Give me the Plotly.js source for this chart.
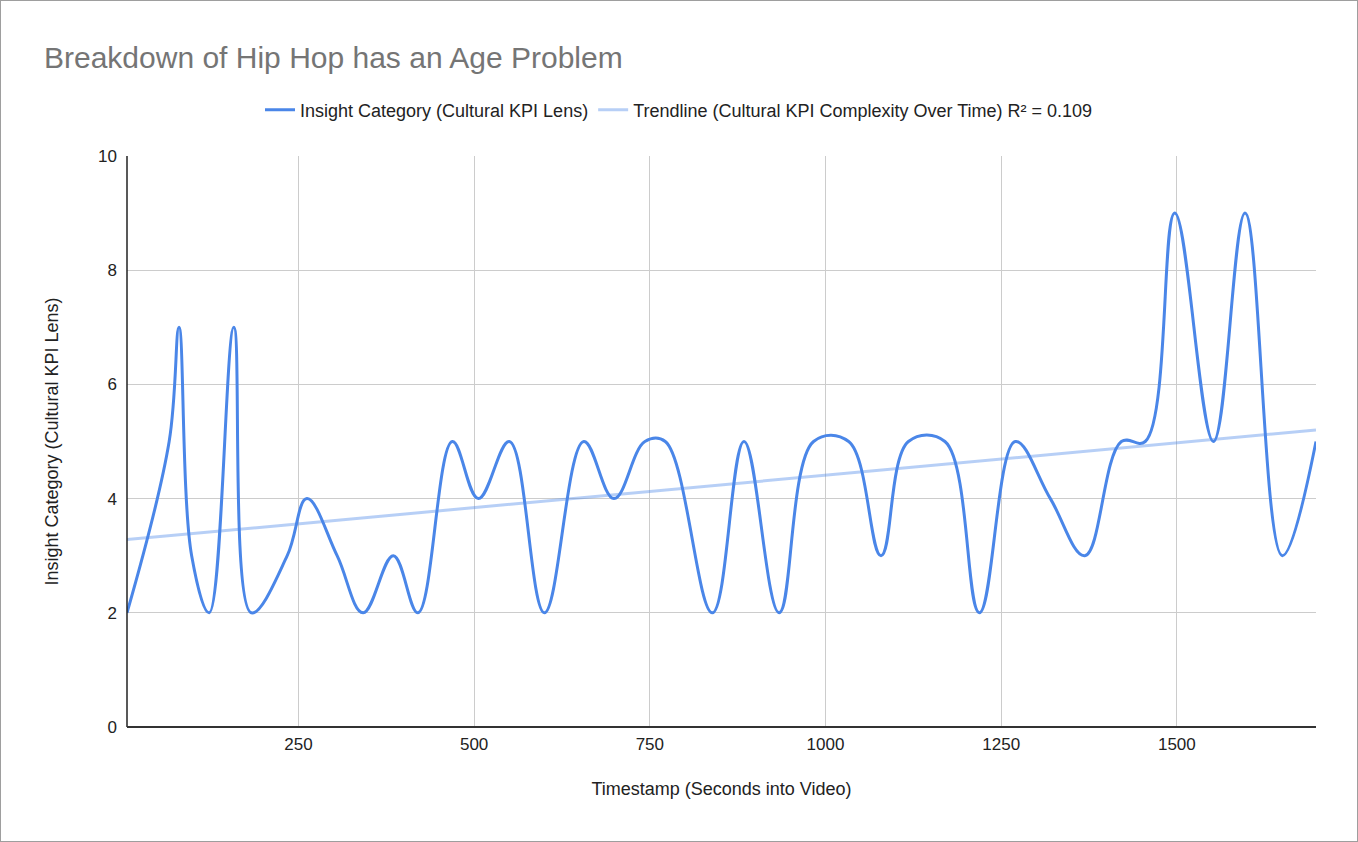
<!DOCTYPE html>
<html>
<head>
<meta charset="utf-8">
<script src="https://cdn.plot.ly/plotly-3.0.1.min.js"></script>
<style>
  html, body { margin: 0; padding: 0; background: #fff; }
  #wrap { position: relative; width: 1358px; height: 842px; }
  #chart { position: absolute; left: 0; top: 0; width: 1358px; height: 842px; }
  #frame { position: absolute; left: 0; top: 0; width: 1358px; height: 842px; box-sizing: border-box; border: 1px solid #9e9e9e; pointer-events: none; }
</style>
</head>
<body>
<div id="wrap"><div id="chart"></div><div id="frame"></div></div>
<script>
// ---- data ----
const chartTitle = 'Breakdown of Hip Hop has an Age Problem';
const seriesName = 'Insight Category (Cultural KPI Lens)';
const trendName = 'Trendline (Cultural KPI Complexity Over Time) R² = 0.109';
const xAxisTitle = 'Timestamp (Seconds into Video)';
const yAxisTitle = 'Insight Category (Cultural KPI Lens)';

const timestamps = [6, 66, 80, 98, 123, 158, 183, 234, 262, 305,
                    342, 385, 420, 469, 506, 550, 600, 656, 699, 743,
                    772, 839, 884, 934, 983, 1033, 1079, 1118, 1170, 1219,
                    1270, 1320, 1369, 1421, 1455, 1497, 1552, 1597, 1650, 1698];
const categories = [2, 5, 7, 3, 2, 7, 2, 3, 4, 3,
                    2, 3, 2, 5, 4, 5, 2, 5, 4, 5,
                    5, 2, 5, 2, 5, 5, 3, 5, 5, 2,
                    5, 4, 3, 5, 5, 9, 5, 9, 3, 5];

const xTickVals = [250, 500, 750, 1000, 1250, 1500];
const yTickVals = [0, 2, 4, 6, 8, 10];

// ---- linear trendline (least squares) ----
const n = timestamps.length;
const mx = timestamps.reduce((a, b) => a + b, 0) / n;
const my = categories.reduce((a, b) => a + b, 0) / n;
let sxy = 0, sxx = 0;
for (let i = 0; i < n; i++) { sxy += (timestamps[i] - mx) * (categories[i] - my); sxx += (timestamps[i] - mx) ** 2; }
const slope = sxy / sxx, intercept = my - slope * mx;
const xMin = Math.min(...timestamps), xMax = Math.max(...timestamps);
const trendX = [xMin, xMax];
const trendY = trendX.map(x => intercept + slope * x);

const FONT = 'Arial, "Liberation Sans", sans-serif';

const traces = [
  { x: timestamps, y: categories, type: 'scatter', mode: 'lines', name: seriesName,
    line: { color: '#4a86e8', width: 3, shape: 'spline', smoothing: 1.1 } },
  { x: trendX, y: trendY, type: 'scatter', mode: 'lines', name: trendName,
    line: { color: 'rgba(74,134,232,0.4)', width: 3 } }
];

const layout = {
  width: 1358, height: 842,
  paper_bgcolor: '#ffffff', plot_bgcolor: '#ffffff',
  margin: { l: 127, r: 42, t: 156, b: 115 },
  font: { family: FONT, size: 18, color: '#222222' },
  title: { text: chartTitle, font: { family: FONT, size: 30, color: '#757575' },
           xref: 'container', x: 44 / 1358, xanchor: 'left',
           yref: 'container', y: 1 - 57 / 842, yanchor: 'middle' },
  showlegend: true,
  legend: { orientation: 'h', xref: 'container', x: 0.5, xanchor: 'center',
            yref: 'container', y: 1 - 110 / 842, yanchor: 'middle',
            font: { family: FONT, size: 18, color: '#222222' }, itemwidth: 30 },
  xaxis: {
    range: [xMin, xMax], tickvals: xTickVals, ticks: '',
    showgrid: true, gridcolor: '#cccccc', gridwidth: 1,
    zeroline: false, showline: false, ticklabelstandoff: 5,
    tickfont: { family: FONT, size: 17, color: '#222222' },
    title: { text: xAxisTitle, font: { family: FONT, size: 18, color: '#222222' }, standoff: 29 },
    automargin: false
  },
  yaxis: {
    range: [0, 10], tickvals: yTickVals, ticks: '',
    showgrid: true, gridcolor: '#cccccc', gridwidth: 1,
    zeroline: false, showline: false, ticklabelstandoff: 9,
    tickfont: { family: FONT, size: 17, color: '#222222' },
    title: { text: yAxisTitle, font: { family: FONT, size: 18, color: '#222222' }, standoff: 34 },
    automargin: false
  },
  shapes: [
    { type: 'line', xref: 'paper', yref: 'paper', x0: 0, x1: 0, y0: 0, y1: 1, line: { color: '#222222', width: 1.5 } },
    { type: 'line', xref: 'paper', yref: 'paper', x0: 0, x1: 1, y0: 0, y1: 0, line: { color: '#333333', width: 2 } }
  ]
};

Plotly.newPlot('chart', traces, layout, { displayModeBar: false, staticPlot: true });
</script>
</body>
</html>
